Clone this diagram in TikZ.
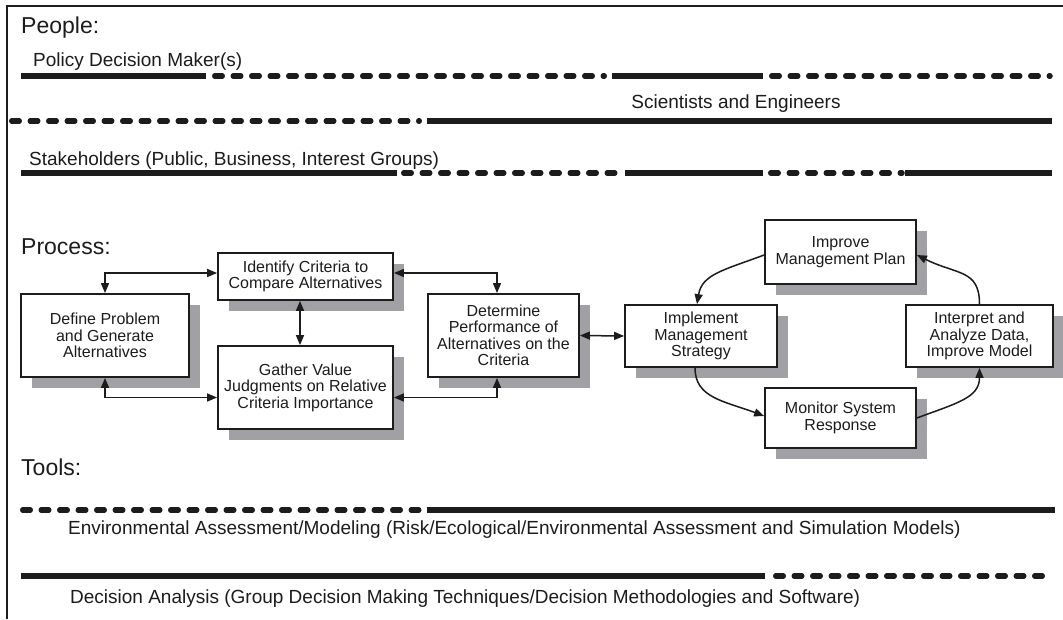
\documentclass[tikz,border=0pt]{standalone}
\usepackage{fontspec}
\setmainfont{Liberation Sans}
\usetikzlibrary{shadows,arrows.meta}
\definecolor{shadowc}{RGB}{160,160,165}
\definecolor{ink}{RGB}{28,28,28}
\begin{document}
\begin{tikzpicture}[x=1pt,y=-1pt,
  box/.style={draw=ink, line width=1.8pt, fill=white, align=center, inner sep=0pt, text=ink,
    font=\fontsize{16}{16.5}\selectfont,
    drop shadow={shadow xshift=11pt, shadow yshift=-11pt, fill=shadowc, draw=none, opacity=1}},
  tip/.tip={Triangle[length=10pt,width=8pt]},
  conn/.style={draw=ink, line width=1.5pt, tip-tip},
  flow/.style={draw=ink, line width=1.5pt, -tip},
  solidbar/.style={draw=ink, line width=6.5pt},
  dashbar/.style={draw=ink, line width=5.5pt, line cap=round, dash pattern=on 7.5pt off 11pt},
  head/.style={anchor=west, inner sep=0pt, text=ink, font=\fontsize{23}{23}\selectfont},
  lab/.style={anchor=west, inner sep=0pt, text=ink, font=\fontsize{19}{19}\selectfont},
]
\useasboundingbox (0,0) rectangle (1063,619);
\fill[white] (0,0) rectangle (1063,619);
% frame
\draw[ink, line width=1.8pt] (7,619) -- (7,6) -- (1063,6);

% People
\node[head] (pp) at (21,28) {People:};
\node[lab] (pdm) at (33,62) {Policy Decision Maker(s)};
\draw[solidbar] (21,76) -- (206,76);
\draw[dashbar] (214.75,76) -- (604.25,76);
\draw[solidbar] (612,76) -- (763,76);
\draw[dashbar] (771.75,76) -- (1050,76);

\node[lab, anchor=center] (se) at (736,104) {Scientists and Engineers};
\draw[dashbar] (11.75,121) -- (419.25,121);
\draw[solidbar] (427,121) -- (1052,121);

\node[lab] (sh) at (29,161) {Stakeholders (Public, Business, Interest Groups)};
\draw[solidbar] (21,173) -- (397,173);
\draw[dashbar] (403.75,173) -- (617.25,173);
\draw[solidbar] (625,173) -- (763,173);
\draw[dashbar] (770.75,173) -- (902,173);
\draw[solidbar] (905,173) -- (1052,173);

% Process
\node[head] (pr) at (21,247) {Process:};
\node[box, minimum width=175pt, minimum height=47pt] (idc) at (305.5,276.5) {Identify Criteria to\\Compare Alternatives};
\node[box, minimum width=168pt, minimum height=83pt] (def) at (105,335.5) {Define Problem\\and Generate\\Alternatives};
\node[box, minimum width=175pt, minimum height=83pt] (gat) at (305.5,387.5) {Gather Value\\Judgments on Relative\\Criteria Importance};
\node[box, minimum width=151pt, minimum height=83pt] (det) at (503.5,335.5) {Determine\\Performance of\\Alternatives on the\\Criteria};
\node[box, minimum width=152pt, minimum height=62pt] (imp) at (701,336) {Implement\\Management\\Strategy};
\node[box, minimum width=151pt, minimum height=64pt] (ipm) at (840.5,252) {Improve\\Management Plan};
\node[box, minimum width=151pt, minimum height=60pt] (mon) at (840.5,418) {Monitor System\\Response};
\node[box, minimum width=147pt, minimum height=62pt] (int) at (979.5,336) {Interpret and\\Analyze Data,\\Improve Model};

\draw[conn] (def.north) |- ([yshift=3.5pt]idc.west);
\draw[conn] (def.south) |- ([yshift=-10pt]gat.west);
\draw[conn] ([yshift=3.5pt]idc.east) -| ([xshift=-6.5pt]det.north);
\draw[conn] ([yshift=-10pt]gat.east) -| ([xshift=-6.5pt]det.south);
\draw[conn] ([xshift=-5.5pt]idc.south) -- ([xshift=-5.5pt]gat.north);
\draw[conn] (det.east) -- (imp.west);

\draw[flow] ([yshift=-3pt]ipm.west) .. controls +(-40,15) and +(5,-30) .. ([xshift=-4pt]imp.north);
\draw[flow] ([xshift=-6pt]imp.south) .. controls +(0,30) and +(-40,-15) .. ([yshift=2pt]mon.west);
\draw[flow] (mon.east) .. controls +(40,-15) and +(0,30) .. (int.south);
\draw[flow] (int.north) .. controls +(0,-35) and +(40,20) .. ([yshift=-3pt]ipm.east);

% Tools
\node[head] (tl) at (21,467) {Tools:};
\draw[dashbar] (22.75,510) -- (419.25,510);
\draw[solidbar] (427,510) -- (1055,510);
\node[lab] (env) at (68,530) {Environmental Assessment/Modeling (Risk/Ecological/Environmental Assessment and Simulation Models)};
\draw[solidbar] (21,576) -- (765,576);
\draw[dashbar] (775.75,576) -- (1053,576);
\node[lab] (dec) at (70,599) {Decision Analysis (Group Decision Making Techniques/Decision Methodologies and Software)};
\end{tikzpicture}
\end{document}
